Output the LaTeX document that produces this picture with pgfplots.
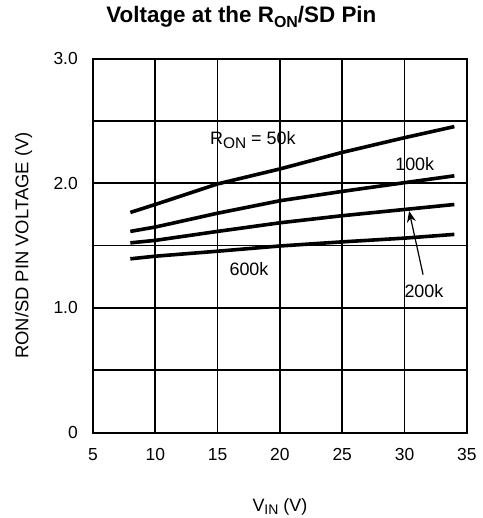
\documentclass[border=0pt]{standalone}
\usepackage{fontspec}
\setmainfont{Liberation Sans}
\usepackage{pgfplots}
\pgfplotsset{compat=1.18}
\usetikzlibrary{arrows.meta}

\begin{document}
\begin{tikzpicture}
\useasboundingbox (-93bp,-85.5bp) rectangle (390bp,432.7bp);
\begin{axis}[
    at={(0,0)}, anchor=south west,
    scale only axis,
    width=374bp, height=374bp,
    xmin=5, xmax=35, ymin=0, ymax=3,
    xtick={5,10,...,35},
    ytick={0,1,2,3},
    yticklabels={0,1.0,2.0,3.0},
    minor ytick={0.5,1.5,2.5},
    grid=both,
    grid style={black, line width=1.6bp},
    minor grid style={black, line width=1.6bp},
    axis line style={black, line width=2bp},
    major tick length=0pt, minor tick length=0pt,
    tick label style={font=\fontsize{17.5}{20}\selectfont, inner sep=0pt},
    xticklabel shift=16bp, yticklabel shift=15bp,
    /pgf/number format/assume math mode=true,
    title={Voltage at the R\raisebox{-5bp}{\fontsize{16}{16}\selectfont ON}/SD Pin},
    title style={at={(axis description cs:0.397,1.0813)}, anchor=base,
        inner sep=0pt, font=\bfseries\fontsize{22.5}{26}\selectfont},
    xlabel={V\raisebox{-3bp}{\fontsize{14}{14}\selectfont IN} (V)},
    xlabel style={at={(axis description cs:0.5,-0.2112)}, anchor=base,
        inner sep=0pt, font=\fontsize{18}{21}\selectfont},
    ylabel={RON/SD PIN VOLTAGE (V)},
    ylabel style={at={(axis description cs:-0.173,0.5)}, anchor=base,
        inner sep=0pt, font=\fontsize{18.5}{21}\selectfont},
]

% R_ON = 50k
\addplot[black, line width=3.6bp] coordinates {
    (8,1.766) (10,1.83) (15,1.995) (20,2.115) (25,2.248) (30,2.366) (34,2.455)
};
% 100k
\addplot[black, line width=3.6bp] coordinates {
    (8,1.614) (10,1.649) (15,1.76) (20,1.86) (25,1.935) (30,2.005) (34,2.06)
};
% 200k
\addplot[black, line width=3.6bp] coordinates {
    (8,1.522) (10,1.542) (15,1.614) (20,1.683) (25,1.74) (30,1.79) (34,1.83)
};
% 600k
\addplot[black, line width=3.6bp] coordinates {
    (8,1.394) (10,1.415) (15,1.455) (20,1.497) (25,1.53) (30,1.56) (34,1.59)
};

% curve labels
\node[anchor=base, inner sep=0pt, font=\fontsize{18}{21}\selectfont]
    at (axis cs:17.83,2.308) {R\raisebox{-3.5bp}{\fontsize{15.5}{15}\selectfont ON} = 50k};
\node[anchor=base, inner sep=0pt, font=\fontsize{18}{21}\selectfont]
    at (axis cs:30.82,2.10) {100k};
\node[anchor=base, inner sep=0pt, font=\fontsize{18}{21}\selectfont]
    at (axis cs:17.52,1.26) {600k};
\node[anchor=base, inner sep=0pt, font=\fontsize{18}{21}\selectfont]
    at (axis cs:31.56,1.087) {200k};

% arrow to 200k
\draw[line width=1.2bp, -{Stealth[length=11bp, width=9bp]}]
    (axis cs:31.49,1.267) -- (axis cs:30.37,1.777);

\end{axis}
\end{tikzpicture}
\end{document}
